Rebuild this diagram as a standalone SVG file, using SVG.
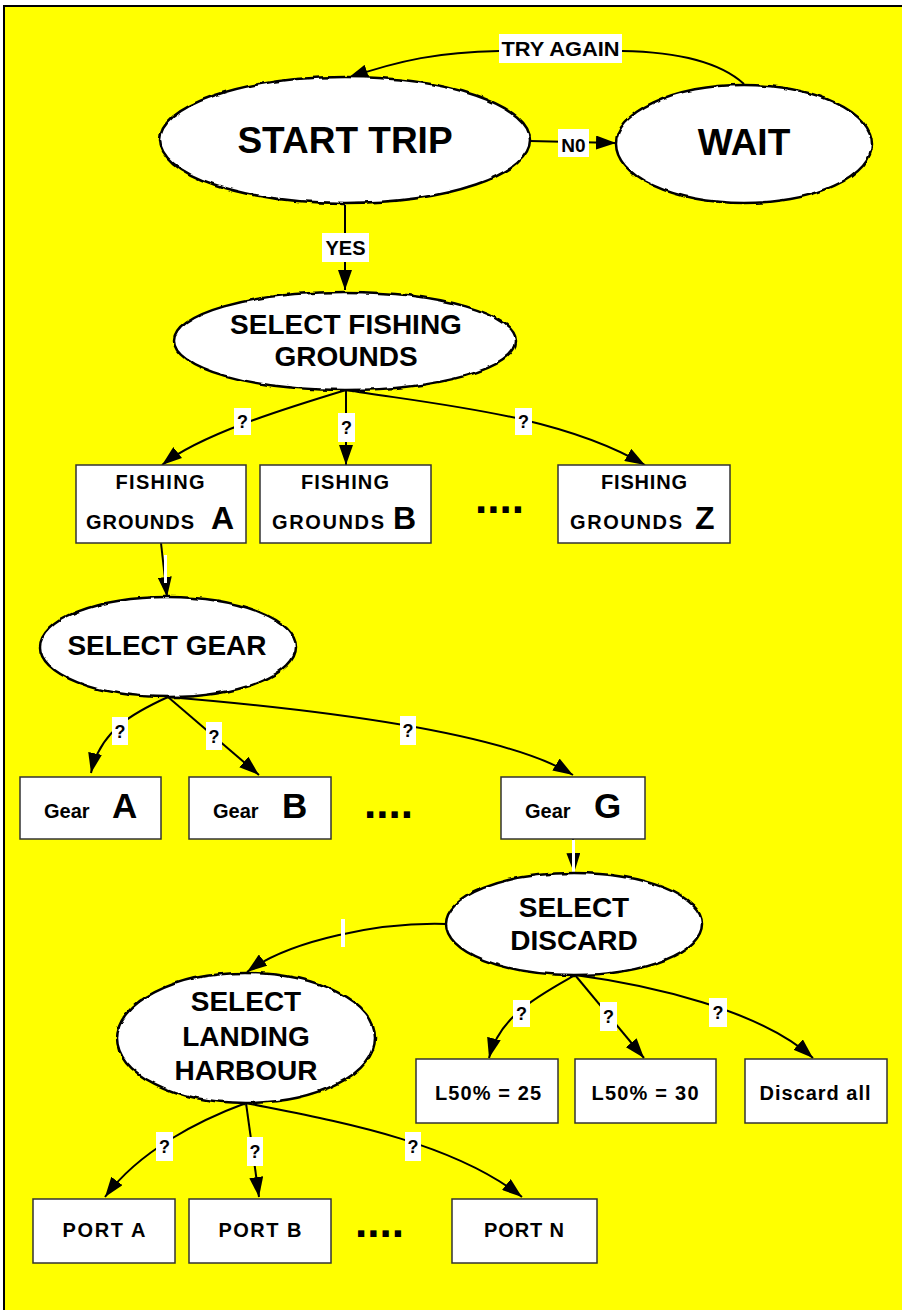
<svg xmlns="http://www.w3.org/2000/svg" width="902" height="1310" viewBox="0 0 902 1310">
  <defs>
    <style>
      .bg { fill: #ffff00; stroke: #000; stroke-width: 2; }
      .oval { fill: #fff; stroke: #000; stroke-width: 2.5; }
      .box { fill: #fff; stroke: #333; stroke-width: 1.5; }
      .edge { fill: none; stroke: #000; stroke-width: 2; marker-end: url(#arrow); }
      .plain { fill: none; stroke: #000; stroke-width: 2; }
      .lbl { fill: #fff; }
      text { font-family: "Liberation Sans", Arial, sans-serif; font-weight: bold; fill: #000; }
      .big { font-size: 37px; text-anchor: middle; }
      .ov { font-size: 28px; text-anchor: middle; }
      .bx { font-size: 20px; }
      .mid { text-anchor: middle; }
      .q { font-size: 18px; text-anchor: middle; }
      .dots { font-size: 44px; }
    </style>
    <marker id="arrow" viewBox="0 0 20 14" refX="20" refY="7" markerWidth="20" markerHeight="14" markerUnits="userSpaceOnUse" orient="auto">
      <path d="M0,0 L20,7 L0,14 z" fill="#000"/>
    </marker>
    <filter id="rough" x="-5%" y="-8%" width="110%" height="116%">
      <feTurbulence type="fractalNoise" baseFrequency="0.07" numOctaves="2" seed="4" result="n"/>
      <feDisplacementMap in="SourceGraphic" in2="n" scale="4" xChannelSelector="R" yChannelSelector="G"/>
    </filter>
  </defs>

  <!-- page background -->
  <rect class="bg" x="4" y="6" width="920" height="1330"/>

  <!-- connectors -->
  <g id="connectors">
    <path class="edge" d="M744,84 C720,62 680,52 622,51 L499,51 C440,52 400,60 348,78"/>
    <path class="edge" d="M530,141 L616,143"/>
    <path class="edge" d="M345,205 L345,290"/>

    <path class="edge" d="M346,390 C280,410 200,435 162,465"/>
    <path class="edge" d="M346,390 L346,465"/>
    <path class="edge" d="M346,390 C440,405 560,415 645,465"/>

    <path class="edge" d="M161,543 L167,597"/>

    <path class="edge" d="M168,697 C135,712 100,730 91,773"/>
    <path class="edge" d="M168,697 L259,775"/>
    <path class="edge" d="M168,697 C300,708 500,730 573,775"/>

    <path class="edge" d="M573,839 L574,873"/>

    <path class="edge" d="M446,924 C380,922 290,940 247,972"/>

    <path class="edge" d="M575,975 C540,995 500,1015 489,1058"/>
    <path class="edge" d="M575,975 L644,1058"/>
    <path class="edge" d="M575,975 C650,985 760,1010 813,1058"/>

    <path class="edge" d="M246,1103 C200,1120 140,1150 105,1197"/>
    <path class="edge" d="M246,1103 L259,1197"/>
    <path class="edge" d="M246,1103 C330,1120 450,1140 522,1197"/>

    <!-- edge labels -->
    <rect class="lbl" x="499" y="34" width="123" height="29"/>
    <text x="560.5" y="56" class="mid" font-size="20" textLength="118" lengthAdjust="spacingAndGlyphs">TRY AGAIN</text>
    <rect class="lbl" x="558" y="129" width="31" height="28"/>
    <text x="573.5" y="152" class="mid" font-size="19">N0</text>
    <rect class="lbl" x="322" y="233" width="47" height="29"/>
    <text x="345.5" y="255" class="mid" font-size="20">YES</text>

    <rect class="lbl" x="234" y="408" width="17" height="27"/>
    <text x="242.5" y="428" class="q">?</text>
    <rect class="lbl" x="338" y="413" width="17" height="29"/>
    <text x="346.5" y="434" class="q">?</text>
    <rect class="lbl" x="515" y="408" width="17" height="27"/>
    <text x="523.5" y="428" class="q">?</text>

    <rect class="lbl" x="164" y="555" width="3" height="28"/>

    <rect class="lbl" x="112" y="717" width="16" height="28"/>
    <text x="120" y="738" class="q">?</text>
    <rect class="lbl" x="206" y="722" width="16" height="28"/>
    <text x="214" y="743" class="q">?</text>
    <rect class="lbl" x="400" y="716" width="16" height="29"/>
    <text x="408" y="737" class="q">?</text>

    <rect class="lbl" x="572" y="840" width="3" height="32"/>
    <rect class="lbl" x="341" y="919" width="4" height="28"/>

    <rect class="lbl" x="513" y="1000" width="17" height="27"/>
    <text x="521.5" y="1020" class="q">?</text>
    <rect class="lbl" x="600" y="1002" width="17" height="29"/>
    <text x="608.5" y="1023" class="q">?</text>
    <rect class="lbl" x="709" y="998" width="18" height="29"/>
    <text x="718" y="1019" class="q">?</text>

    <rect class="lbl" x="156" y="1132" width="17" height="29"/>
    <text x="164.5" y="1153" class="q">?</text>
    <rect class="lbl" x="247" y="1137" width="16" height="29"/>
    <text x="255" y="1158" class="q">?</text>
    <rect class="lbl" x="405" y="1132" width="16" height="29"/>
    <text x="413" y="1153" class="q">?</text>
  </g>

  <!-- decision ovals -->
  <g id="start-trip">
    <ellipse class="oval" cx="345" cy="140" rx="185" ry="63" filter="url(#rough)"/>
    <text x="345" y="153" class="big">START TRIP</text>
  </g>
  <g id="wait">
    <ellipse class="oval" cx="744" cy="144" rx="128" ry="59" filter="url(#rough)"/>
    <text x="744" y="155" class="big">WAIT</text>
  </g>
  <g id="select-fishing-grounds">
    <ellipse class="oval" cx="345" cy="341" rx="171" ry="49" filter="url(#rough)"/>
    <text x="346" y="334" class="ov">SELECT FISHING</text>
    <text x="346" y="366" class="ov">GROUNDS</text>
  </g>
  <g id="select-gear">
    <ellipse class="oval" cx="168" cy="647" rx="128" ry="50" filter="url(#rough)"/>
    <text x="167" y="655" class="ov">SELECT GEAR</text>
  </g>
  <g id="select-discard">
    <ellipse class="oval" cx="574" cy="924" rx="128" ry="51" filter="url(#rough)"/>
    <text x="574" y="917" class="ov">SELECT</text>
    <text x="574" y="950" class="ov">DISCARD</text>
  </g>
  <g id="select-landing-harbour">
    <ellipse class="oval" cx="246" cy="1038" rx="129" ry="65" filter="url(#rough)"/>
    <text x="246" y="1011" class="ov">SELECT</text>
    <text x="246" y="1046" class="ov">LANDING</text>
    <text x="246" y="1080" class="ov">HARBOUR</text>
  </g>

  <!-- fishing grounds -->
  <g id="grounds-a">
    <rect class="box" x="76" y="465" width="170" height="78"/>
    <text x="160" y="489" class="bx mid" textLength="89" lengthAdjust="spacing">FISHING</text>
    <text x="86" y="529" class="bx" textLength="108" lengthAdjust="spacing">GROUNDS</text>
    <text x="211" y="529" font-size="32">A</text>
  </g>
  <g id="grounds-b">
    <rect class="box" x="260" y="465" width="171" height="78"/>
    <text x="345" y="489" class="bx mid" textLength="88" lengthAdjust="spacing">FISHING</text>
    <text x="272" y="529" class="bx" textLength="112" lengthAdjust="spacing">GROUNDS</text>
    <text x="393" y="529" font-size="32">B</text>
  </g>
  <text x="475" y="513" class="dots">....</text>
  <g id="grounds-z">
    <rect class="box" x="558" y="465" width="172" height="78"/>
    <text x="644" y="489" class="bx mid" textLength="86" lengthAdjust="spacing">FISHING</text>
    <text x="570" y="529" class="bx" textLength="112" lengthAdjust="spacing">GROUNDS</text>
    <text x="695" y="529" font-size="32">Z</text>
  </g>

  <!-- gears -->
  <g id="gear-a">
    <rect class="box" x="20" y="777" width="141" height="62"/>
    <text x="44" y="818" class="bx">Gear</text>
    <text x="112" y="818" font-size="35">A</text>
  </g>
  <g id="gear-b">
    <rect class="box" x="189" y="777" width="142" height="62"/>
    <text x="213" y="818" class="bx">Gear</text>
    <text x="282" y="818" font-size="35">B</text>
  </g>
  <text x="364" y="818" class="dots">....</text>
  <g id="gear-g">
    <rect class="box" x="501" y="777" width="144" height="62"/>
    <text x="525" y="818" class="bx">Gear</text>
    <text x="594" y="818" font-size="35">G</text>
  </g>

  <!-- discard options -->
  <g id="l50-25">
    <rect class="box" x="416" y="1059" width="142" height="64"/>
    <text x="488" y="1100" class="bx mid" textLength="106" lengthAdjust="spacing">L50% = 25</text>
  </g>
  <g id="l50-30">
    <rect class="box" x="575" y="1059" width="141" height="64"/>
    <text x="645" y="1100" class="bx mid" textLength="107" lengthAdjust="spacing">L50% = 30</text>
  </g>
  <g id="discard-all">
    <rect class="box" x="745" y="1059" width="142" height="64"/>
    <text x="815" y="1100" class="bx mid" textLength="111" lengthAdjust="spacing">Discard all</text>
  </g>

  <!-- ports -->
  <g id="port-a">
    <rect class="box" x="33" y="1199" width="142" height="64"/>
    <text x="104" y="1237" class="bx mid" textLength="83" lengthAdjust="spacing">PORT A</text>
  </g>
  <g id="port-b">
    <rect class="box" x="189" y="1199" width="142" height="64"/>
    <text x="260" y="1237" class="bx mid" textLength="83" lengthAdjust="spacing">PORT B</text>
  </g>
  <text x="355" y="1237" class="dots">....</text>
  <g id="port-n">
    <rect class="box" x="452" y="1199" width="145" height="64"/>
    <text x="524" y="1237" class="bx mid" textLength="80" lengthAdjust="spacing">PORT N</text>
  </g>
</svg>
